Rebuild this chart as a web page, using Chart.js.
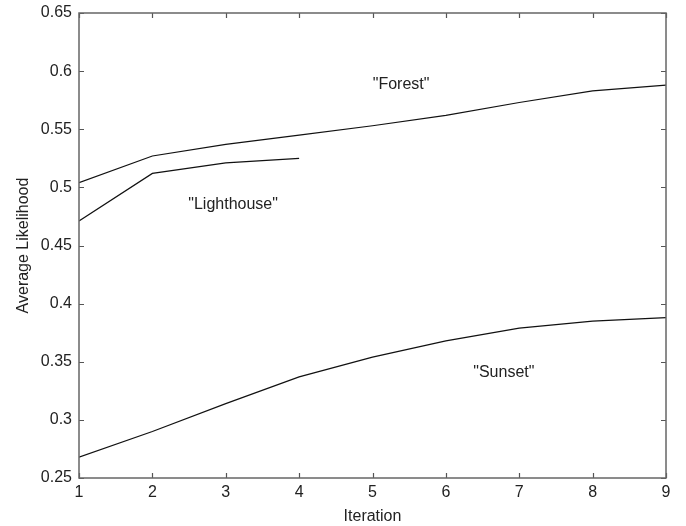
<!DOCTYPE html>
<html>
<head>
<meta charset="utf-8">
<script src="https://cdn.jsdelivr.net/npm/chart.js@4"></script>
<style>
  html, body { margin: 0; padding: 0; background: #fff; }
  #wrap { width: 686px; height: 526px; }
</style>
</head>
<body>
<div id="wrap"><canvas id="grafico"></canvas></div>
<script>
const iteraciones = [1, 2, 3, 4, 5, 6, 7, 8, 9];
const forest = [0.504, 0.527, 0.537, 0.545, 0.553, 0.562, 0.573, 0.583, 0.588];
const lighthouse = [0.471, 0.512, 0.521, 0.525];
const sunset = [0.268, 0.290, 0.314, 0.337, 0.354, 0.368, 0.379, 0.385, 0.388];
const yTicks = ['0.25', '0.3', '0.35', '0.4', '0.45', '0.5', '0.55', '0.6', '0.65'];
const etiquetas = [
  { texto: '"Forest"', x: 5.39, y: 0.588 },
  { texto: '"Lighthouse"', x: 3.10, y: 0.485 },
  { texto: '"Sunset"', x: 6.79, y: 0.341 }
];

const fuente = '"Liberation Sans", Arial, Helvetica, sans-serif';

function puntos(valores) {
  return valores.map((v, i) => ({ x: iteraciones[i], y: v }));
}

function serie(label, valores) {
  return {
    label,
    data: puntos(valores),
    borderColor: '#111',
    borderWidth: 1.2,
    pointRadius: 0,
    fill: false,
    tension: 0
  };
}

// ticks hacia adentro en los cuatro lados + etiquetas de texto
const marcas = {
  id: 'marcas',
  afterDraw(chart) {
    const { ctx, chartArea: a, scales } = chart;
    const L = 5;
    ctx.save();
    ctx.strokeStyle = '#555';
    ctx.lineWidth = 1.2;
    ctx.beginPath();
    iteraciones.forEach(v => {
      const px = Math.round(scales.x.getPixelForValue(v)) + 0.5;
      ctx.moveTo(px, a.bottom); ctx.lineTo(px, a.bottom - L);
      ctx.moveTo(px, a.top); ctx.lineTo(px, a.top + L);
    });
    yTicks.forEach(t => {
      const py = Math.round(scales.y.getPixelForValue(parseFloat(t))) + 0.5;
      ctx.moveTo(a.left, py); ctx.lineTo(a.left + L, py);
      ctx.moveTo(a.right, py); ctx.lineTo(a.right - L, py);
    });
    ctx.stroke();
    ctx.strokeStyle = '#666';
    ctx.lineWidth = 1.5;
    ctx.strokeRect(a.left, a.top, a.right - a.left, a.bottom - a.top);

    ctx.fillStyle = '#222';
    ctx.font = '16px ' + fuente;
    ctx.textAlign = 'center';
    ctx.textBaseline = 'middle';
    etiquetas.forEach(e => {
      ctx.fillText(e.texto, scales.x.getPixelForValue(e.x), scales.y.getPixelForValue(e.y));
    });
    ctx.restore();
  }
};

const ctx = document.getElementById('grafico').getContext('2d');
const grafico = new Chart(ctx, {
  type: 'line',
  data: {
    datasets: [
      serie('Forest', forest),
      serie('Lighthouse', lighthouse),
      serie('Sunset', sunset)
    ]
  },
  options: {
    responsive: true,
    maintainAspectRatio: false,
    animation: false,
    layout: { padding: { left: 0, top: 13, right: 20, bottom: 0 } },
    plugins: {
      legend: { display: false },
      tooltip: { enabled: false }
    },
    scales: {
      x: {
        type: 'linear',
        min: 1,
        max: 9,
        afterBuildTicks: (scale) => { scale.ticks = iteraciones.map(v => ({ value: v })); },
        afterFit: (scale) => { scale.height = 48; scale.paddingLeft = 0; scale.paddingRight = 0; },
        grid: { display: false, drawTicks: false },
        border: { display: false },
        ticks: {
          color: '#222',
          padding: 5,
          maxRotation: 0,
          font: { family: fuente, size: 16 },
          callback: (v) => String(v)
        },
        title: {
          display: true,
          text: 'Iteration',
          color: '#222',
          padding: { top: 1, bottom: 0 },
          font: { family: fuente, size: 16 }
        }
      },
      y: {
        type: 'linear',
        min: 0.25,
        max: 0.65,
        afterBuildTicks: (scale) => { scale.ticks = yTicks.map(t => ({ value: parseFloat(t) })); },
        afterFit: (scale) => { scale.width = 79; scale.paddingTop = 0; scale.paddingBottom = 0; },
        grid: { display: false, drawTicks: false },
        border: { display: false },
        ticks: {
          color: '#222',
          padding: 7,
          font: { family: fuente, size: 16 },
          callback: (v) => yTicks.find(t => Math.abs(parseFloat(t) - v) < 1e-9) || ''
        },
        title: {
          display: true,
          text: 'Average Likelihood',
          color: '#222',
          padding: { top: 14, bottom: 0 },
          font: { family: fuente, size: 16 }
        }
      }
    }
  },
  plugins: [marcas]
});
</script>
</body>
</html>
